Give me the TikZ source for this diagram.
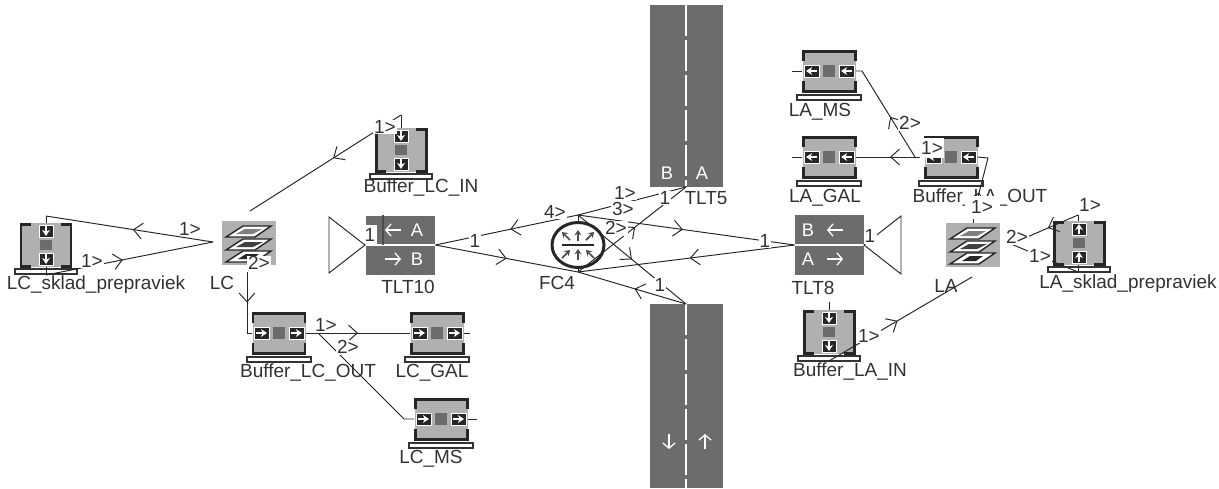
\documentclass[tikz,border=0pt]{standalone}
\usepackage{fontspec}
\setmainfont{Liberation Sans}
\usetikzlibrary{arrows.meta,decorations.markings,shapes.geometric}
\definecolor{roadgray}{RGB}{108,108,108}
\definecolor{bodygray}{RGB}{176,176,176}
\definecolor{inkgray}{RGB}{50,50,50}
\tikzset{
  itemname/.style={font=\fontsize{10.8}{12}\selectfont,text=inkgray,inner sep=0pt},
  linklabel/.style={font=\fontsize{10.8}{12}\selectfont,text=inkgray,fill=white,inner sep=0.5pt},
  road/.style={fill=roadgray,draw=none},
  roadtext/.style={font=\fontsize{10.4}{12}\selectfont,text=white,inner sep=0pt},
  link/.style={draw=black!85,line width=0.55pt},
  arrowat/.style={postaction={decorate},decoration={markings,
    mark=at position #1 with {\arrow{Straight Barb[length=5pt,width=9pt]}}}},
  port/.style={fill=black!85,draw=white,line width=0.5pt},
  portarrow/.style={white,line width=1pt,-{Stealth[length=3.5pt,width=4.5pt]}},
  crossarrow/.style={black!70,line width=1pt,-{Stealth[length=3pt,width=4pt]}},
  bracket/.style={line width=1.7pt,draw=black!85},
  basebar/.style={fill=white,draw=black!80,line width=0.6pt},
  stackplate/.style={fill=white,draw=black!85,line width=0.8pt}
}
% buffer lying flat: name, x, y, direction of the ports
\newcommand{\bufferflat}[4]{
  \node[fill=bodygray,minimum width=1.06cm,minimum height=0.8cm,inner sep=0pt] (#1) at (#2,#3) {};
  \begin{scope}[shift={(#2,#3)}]
    \draw[bracket] (-26,-10) -- (-26,-20) -- (26,-20) -- (26,-10);
    \draw[bracket] (-26,10) -- (-26,20) -- (26,20) -- (26,10);
    \begin{scope}[xscale=#4]
      \draw[port] (-25,-6) rectangle (-10,6);
      \draw[port] (10,-6) rectangle (25,6);
      \fill[gray!85!black] (-6,-6) rectangle (6,6);
      \draw[portarrow] (-23,0) -- (-12,0);
      \draw[portarrow] (12,0) -- (23,0);
    \end{scope}
    \draw[basebar] (-32,24) rectangle (32,29);
  \end{scope}
}
% buffer standing up: name, x, y, direction of the ports
\newcommand{\bufferup}[4]{
  \node[fill=bodygray,minimum width=1.04cm,minimum height=0.88cm,inner sep=0pt] (#1) at (#2,#3) {};
  \begin{scope}[shift={(#2,#3)}]
    \draw[bracket] (-15,-21) -- (-25,-21) -- (-25,21) -- (-15,21);
    \draw[bracket] (15,-21) -- (25,-21) -- (25,21) -- (15,21);
    \begin{scope}[yscale=#4]
      \draw[port] (-7,-20) rectangle (7,-8);
      \draw[port] (-7,8) rectangle (7,20);
      \fill[gray!85!black] (-6,-5) rectangle (6,5);
      \draw[portarrow] (0,-19) -- (0,-9);
      \draw[portarrow] (0,9) -- (0,19);
    \end{scope}
    \draw[basebar] (-31,24) rectangle (31,29);
  \end{scope}
}
% stack of three plates: name, x, y
\newcommand{\stackicon}[3]{
  \node[fill=bodygray,minimum width=1.08cm,minimum height=0.88cm,inner sep=0pt] (#1) at (#2,#3) {};
  \begin{scope}[shift={(#2,#3)}]
    \draw[stackplate] (-23,19) -- (-6,8) -- (22,8) -- (6,19) -- cycle;
    \fill[black!85] (-11,16) -- (-3,11) -- (10,11) -- (3,16) -- cycle;
    \draw[stackplate] (-23,7) -- (-6,-4) -- (22,-4) -- (6,7) -- cycle;
    \fill[black!75] (-13,4) -- (-4,-1) -- (14,-1) -- (4,4) -- cycle;
    \draw[stackplate] (-23,-6) -- (-6,-17) -- (22,-17) -- (6,-6) -- cycle;
    \fill[gray] (-13,-9) -- (-4,-14) -- (13,-14) -- (4,-9) -- cycle;
  \end{scope}
}
\begin{document}
\begin{tikzpicture}[x=0.02cm,y=-0.02cm]
  \useasboundingbox (0,0) rectangle (1219,488);
  % roads
  \draw[road] (650,5) rectangle (723,187);
  \draw[road] (650,304) rectangle (723,488);
  \draw[white,line width=1pt,dash pattern=on 0.62cm off 0.08cm] (686,5) -- (686,186);
  \draw[white,line width=1pt,dash pattern=on 0.62cm off 0.08cm] (686,304) -- (686,488);
  \coordinate (tlt5end) at (686,187);
  \coordinate (tlt4end) at (686,304);
  \node[roadtext] at (667,173) {B};
  \node[roadtext] at (702,173) {A};
  \draw[white,line width=0.7pt,-{Straight Barb[length=3pt,width=7pt]}] (669,434) -- (669,449);
  \draw[white,line width=0.7pt,-{Straight Barb[length=3pt,width=7pt]}] (705,449) -- (705,434);
  \node[itemname] (tlt5) at (706,198) {TLT5};
  % left and right road ends
  \node[road,fill=roadgray,minimum width=1.38cm,minimum height=1.18cm,inner sep=0pt] (tlt10) at (400.5,245) {};
  \draw[white,line width=0.8pt] (tlt10.west) -- (tlt10.east);
  \draw[black!70,line width=0.7pt] (383,215) -- (383,245);
  \draw[link] (365,245) -- (329,217) -- (329,273) -- cycle;
  \fill[white] (365,225) rectangle (377,244);
  \node[itemname] at (370,235) {1};
  \node[roadtext] at (417,230) {A};
  \node[roadtext] at (417,259) {B};
  \draw[white,line width=0.7pt,-{Straight Barb[length=3pt,width=7pt]}] (401,230) -- (385,230);
  \draw[white,line width=0.7pt,-{Straight Barb[length=3pt,width=7pt]}] (385,259) -- (401,259);
  \node[itemname] at (408,287) {TLT10};
  \node[road,fill=roadgray,minimum width=1.38cm,minimum height=1.2cm,inner sep=0pt] (tlt8) at (829.5,245) {};
  \draw[white,line width=0.8pt] (tlt8.west) -- (tlt8.east);
  \draw[link] (864,245) -- (901,216) -- (901,274) -- cycle;
  \fill[white] (865,226) rectangle (877,244);
  \node[itemname] at (870,236) {1};
  \node[roadtext] at (808,230) {B};
  \node[roadtext] at (808,259) {A};
  \draw[white,line width=0.7pt,-{Straight Barb[length=3pt,width=7pt]}] (843,230) -- (827,230);
  \draw[white,line width=0.7pt,-{Straight Barb[length=3pt,width=7pt]}] (827,259) -- (843,259);
  \node[itemname] at (813,288) {TLT8};
  % crossing
  \node[draw=black!85,line width=1.7pt,ellipse,minimum width=1.04cm,minimum height=0.9cm,inner sep=0pt] (fc4) at (578,245) {};
  \draw[black!85,line width=0.8pt] (562,245) -- (594,245);
  \draw[crossarrow] (578,241) -- (578,230);
  \draw[crossarrow] (578,260) -- (578,249);
  \draw[crossarrow] (570,240) -- (562,232);
  \draw[crossarrow] (586,240) -- (594,232);
  \draw[crossarrow] (562,258) -- (570,250);
  \draw[crossarrow] (594,258) -- (586,250);
  \node[itemname] at (557,283) {FC4};
  \coordinate (fc4top) at (578,215);
  \coordinate (fc4bot) at (578,272);
  \draw[link] (fc4.north) -- (fc4top);
  \draw[link] (fc4.south) -- (fc4bot);
  % buffers and stacks
  \bufferup{lcsklad}{46}{245}{1}
  \node[itemname] at (96,285) {LC\_sklad\_prepraviek};
  \bufferup{buflcin}{401}{150}{1}
  \node[itemname] at (421,188) {Buffer\_LC\_IN};
  \bufferflat{buflcout}{279}{333}{1}
  \node[itemname] at (308,373) {Buffer\_LC\_OUT};
  \bufferflat{lcgal}{437}{333}{1}
  \node[itemname] at (432,373) {LC\_GAL};
  \bufferflat{lcms}{441}{419}{1}
  \node[itemname] at (431,459) {LC\_MS};
  \stackicon{lc}{249}{243}
  \node[itemname] at (222,283) {LC};
  \bufferflat{lams}{829}{71}{-1}
  \node[itemname] at (820,112) {LA\_MS};
  \bufferflat{lagal}{829}{157}{-1}
  \node[itemname] at (825,198) {LA\_GAL};
  \bufferflat{buflaout}{951}{157}{-1}
  \node[itemname] at (980,198) {Buffer\_LA\_OUT};
  \stackicon{la}{973}{245}
  \node[itemname] at (946,286) {LA};
  \bufferup{lasklad}{1079}{243}{-1}
  \node[itemname] at (1128,284) {LA\_sklad\_prepraviek};
  \bufferup{buflain}{829}{332}{1}
  \node[itemname] at (850,372) {Buffer\_LA\_IN};
  % free ends
  \coordinate (lcapex) at (213,242);
  \coordinate (lcsite) at (250,211);
  \coordinate (lcdown) at (247,272);
  \coordinate (lcbend) at (247,333);
  \coordinate (lcskladtop) at (46,216);
  \coordinate (lcskladbot) at (46,275);
  \coordinate (lcintop) at (401,115);
  \coordinate (lcsplit) at (318,333);
  \coordinate (lcmsbend) at (404,419);
  \coordinate (labranch) at (915,157);
  \coordinate (lamsbend) at (862,71);
  \coordinate (laoutbend) at (988,158);
  \coordinate (latop) at (973,216);
  \coordinate (laapex) at (1011,244);
  \coordinate (laskladtop) at (1078,215);
  \coordinate (laskladbot) at (1078,272);
  \coordinate (lainbot) at (829,361);
  \coordinate (laintop) at (829,302);
  \coordinate (labot) at (972,277);
  % connectors
  \draw[link,arrowat=0.48] (lcapex) -- (lcskladtop);
  \draw[link] (lcskladtop) -- (lcsklad.north -| lcskladtop);
  \draw[link,arrowat=0.46] (lcskladbot) -- (lcapex);
  \draw[link] (lcskladbot) -- (lcsklad.south -| lcskladbot);
  \draw[link,arrowat=0.45] (lcintop) -- (lcsite);
  \draw[link] (lcintop) -- (buflcin.north);
  \draw[link,arrowat=0.5] (lcdown) -- (lcbend);
  \draw[link] (lcbend) -- (buflcout.west);
  \draw[link,arrowat=0.5] (buflcout.east) -- (lcgal.west);
  \draw[link] (lcgal.east) -- ++(6,0);
  \draw[link] (lcsplit) -- (lcmsbend) -- (lcms.west);
  \draw[link] (lcms.east) -- ++(9,0);
  \draw[link,arrowat=0.475] (fc4top) -- (tlt10.east);
  \draw[link,arrowat=0.5] (tlt10.east) -- (fc4bot);
  \draw[link] (fc4top) -- (tlt5end);
  \draw[link,arrowat=0.484] (fc4top) -- (tlt8.west);
  \draw[link,arrowat=0.5] (fc4top) -- (tlt4end);
  \draw[link,arrowat=0.484] (tlt8.west) -- (fc4bot);
  \draw[link,arrowat=0.477] (tlt4end) -- (fc4bot);
  \draw[link,arrowat=0.53] (fc4bot) -- (tlt5end);
  \draw[link,arrowat=0.5] (buflaout.west) -- (lagal.east);
  \draw[link] (lagal.west) -- ++(-10,0);
  \draw[link,arrowat=0.44] (labranch) -- (lamsbend) -- (lams.east);
  \draw[link] (lams.west) -- ++(-10,0);
  \draw[link] (buflaout.east) -- (laoutbend);
  \draw[link,arrowat=0.41] (latop) -- (laoutbend);
  \draw[link] (la.north) -- (latop);
  \draw[link,arrowat=0.45] (laskladtop) -- (laapex);
  \draw[link] (laskladtop) -- (lasklad.north -| laskladtop);
  \draw[link] (laapex) -- (laskladbot);
  \draw[link] (laskladbot) -- (lasklad.south -| laskladbot);
  \draw[link,arrowat=0.48] (lainbot) -- (labot);
  \draw[link] (laintop) -- (buflain.north);
  % link labels
  \node[linklabel] at (190,229) {1>};
  \node[linklabel] at (92,261) {1>};
  \node[linklabel] at (385,127) {1>};
  \node[linklabel] at (259,263) {2>};
  \node[linklabel] at (326,325) {1>};
  \node[linklabel] at (348,347) {2>};
  \node[linklabel] at (475,241) {1};
  \node[linklabel] at (555,212) {4>};
  \node[linklabel] at (625,193) {1>};
  \node[linklabel] at (623,209) {3>};
  \node[linklabel] at (616,228) {2>};
  \node[linklabel] at (665,198) {1};
  \node[linklabel] at (660,285) {1};
  \node[linklabel] at (765,241) {1};
  \node[linklabel] at (910,123) {2>};
  \node[linklabel,minimum width=0.42cm,minimum height=0.4cm] at (932,148) {1>};
  \node[linklabel,minimum width=0.7cm,minimum height=0.46cm] at (982,207) {1>};
  \node[linklabel] at (1017,237) {2>};
  \node[linklabel] at (1090,205) {1>};
  \node[linklabel] at (1040,256) {1>};
  \node[linklabel] at (869,336) {1>};
\end{tikzpicture}
\end{document}
